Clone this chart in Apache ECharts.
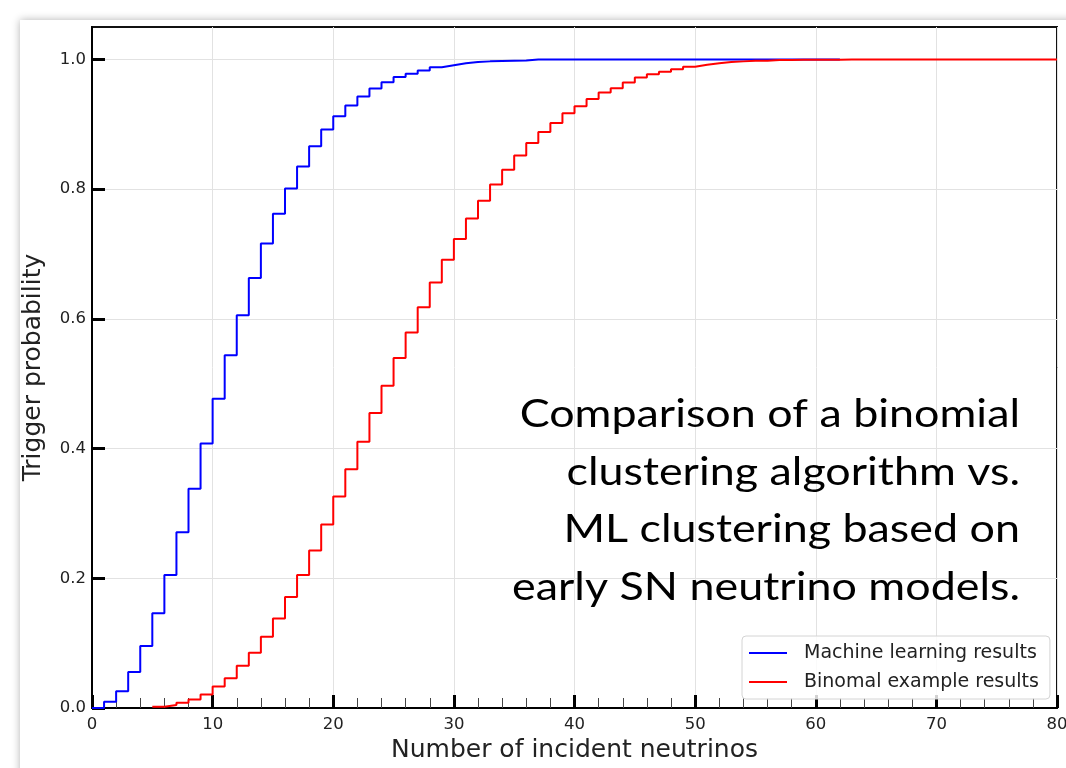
<!DOCTYPE html>
<html>
<head>
<meta charset="utf-8">
<title>Trigger probability</title>
<script src="https://cdn.jsdelivr.net/npm/echarts@6/dist/echarts.min.js"></script>
<style>
  html, body { margin: 0; padding: 0; background: #ffffff; }
  #chart { width: 1066px; height: 768px; }
</style>
</head>
<body>
<div id="chart"></div>
<script>
// Cumulative trigger probability per number of incident neutrinos.
// Each value holds from its x up to the next integer (histogram-style steps).
const mlStart = 0;
const mlValues = [
  0, 0.0098, 0.026, 0.0556, 0.0957, 0.146, 0.205, 0.271, 0.338, 0.408,
  0.477, 0.5437, 0.6054, 0.663, 0.716, 0.762, 0.801, 0.835, 0.866, 0.892,
  0.9125, 0.929, 0.943, 0.955, 0.965, 0.973, 0.978, 0.983, 0.988, 0.991,
  0.994, 0.996, 0.997, 0.9975, 0.998, 0.9985, 1.0, 1.0, 1.0, 1.0,
  1.0, 1.0, 1.0, 1.0, 1.0, 1.0, 1.0, 1.0, 1.0, 1.0,
  1.0, 1.0, 1.0, 1.0, 1.0, 1.0, 1.0, 1.0, 1.0, 1.0,
  1.0, 1.0, 1.0
];

const binomStart = 5;
const binomValues = [
  0.002, 0.0046, 0.008, 0.013, 0.021, 0.033, 0.046, 0.065, 0.085, 0.110,
  0.138, 0.171, 0.205, 0.243, 0.283, 0.326, 0.368, 0.4105, 0.4547, 0.497,
  0.5396, 0.579, 0.618, 0.656, 0.691, 0.723, 0.7546, 0.782, 0.807, 0.830,
  0.852, 0.871, 0.888, 0.902, 0.917, 0.928, 0.939, 0.949, 0.9557, 0.9645,
  0.972, 0.977, 0.981, 0.985, 0.9887, 0.9917, 0.994, 0.9959, 0.997, 0.998,
  0.998, 0.999, 0.999, 0.9995, 0.9995, 0.9995, 0.9995, 1.0, 1.0, 1.0,
  1.0, 1.0, 1.0, 1.0, 1.0, 1.0, 1.0, 1.0, 1.0, 1.0,
  1.0, 1.0, 1.0, 1.0, 1.0, 1.0
];

const seriesNames = ['Machine learning results', 'Binomal example results'];
const seriesColors = ['#0000ff', '#ff0000'];

const xTicks = [0, 10, 20, 30, 40, 50, 60, 70, 80];
const yTicks = [0, 0.2, 0.4, 0.6, 0.8, 1.0];

const noteLines = [
  'Comparison of a binomial',
  'clustering algorithm vs.',
  'ML clustering based on',
  'early SN neutrino models.'
];

function toPoints(start, values) {
  return values.map((v, i) => [start + i, v]);
}

const tickFont = 'DejaVu Sans';
const noteFont = 'Lato';

const chart = echarts.init(document.getElementById('chart'), null, { renderer: 'canvas' });

// Right-aligned note block, slightly widened to the slide's typeface proportions
const noteGraphics = noteLines.map((line, i) => ({
  type: 'text',
  x: 1020,
  y: 415 + i * 57.5,
  scaleX: 1.18,
  z: 100,
  style: {
    text: line,
    font: '38px ' + noteFont,
    fill: '#000000',
    textAlign: 'right',
    textVerticalAlign: 'middle'
  }
}));

chart.setOption({
  animation: false,
  backgroundColor: '#ffffff',
  graphic: [
    {
      type: 'rect',
      z: -10,
      silent: true,
      shape: { x: 20, y: 20, width: 1200, height: 900 },
      style: { fill: '#ffffff', shadowBlur: 8, shadowColor: 'rgba(0,0,0,0.3)' }
    }
  ].concat(noteGraphics),
  grid: {
    left: 92, right: 9, top: 27, bottom: 60,
    outerBoundsMode: 'none',
    containLabel: false,
    show: true, borderColor: '#111', borderWidth: 2, backgroundColor: 'transparent'
  },
  legend: {
    data: seriesNames,
    orient: 'vertical',
    left: 742,
    top: 636,
    icon: 'rect',
    itemWidth: 38,
    itemHeight: 2,
    itemGap: 7,
    padding: [6, 11, 6, 7],
    backgroundColor: 'rgba(255,255,255,0.82)',
    borderColor: '#d4d4d4',
    borderWidth: 1,
    borderRadius: 4,
    textStyle: {
      fontFamily: tickFont, fontSize: 19, color: '#222', lineHeight: 22,
      padding: [0, 0, 0, 12]
    }
  },
  xAxis: {
    type: 'value',
    min: 0, max: 80, interval: 10,
    name: 'Number of incident neutrinos',
    nameLocation: 'middle',
    nameGap: 25,
    nameTextStyle: { fontFamily: tickFont, fontSize: 25, color: '#222' },
    axisLine: { show: true, onZero: false, lineStyle: { color: '#000', width: 2 } },
    axisTick: { show: true, inside: true, length: 13, lineStyle: { color: '#000', width: 3 } },
    minorTick: { show: true, splitNumber: 5, length: 10, lineStyle: { color: '#444', width: 1 } },
    axisLabel: {
      margin: 8, fontFamily: tickFont, fontSize: 16.5, color: '#222',
      formatter: v => String(Math.round(v))
    },
    splitLine: { show: true, lineStyle: { color: '#e2e2e2', width: 1 } }
  },
  yAxis: {
    type: 'value',
    min: 0, max: 1.05, interval: 0.2,
    name: 'Trigger probability',
    nameLocation: 'middle',
    nameGap: 46,
    nameTextStyle: { fontFamily: tickFont, fontSize: 25, color: '#222' },
    axisLine: { show: true, onZero: false, lineStyle: { color: '#000', width: 2 } },
    axisTick: { show: true, inside: true, length: 13, customValues: yTicks, lineStyle: { color: '#000', width: 3 } },
    axisLabel: {
      margin: 6, fontFamily: tickFont, fontSize: 16.5, color: '#222',
      customValues: yTicks,
      formatter: v => v.toFixed(1)
    },
    splitLine: { show: true, lineStyle: { color: '#e2e2e2', width: 1 } }
  },
  series: [
    {
      name: seriesNames[0],
      type: 'line',
      step: 'end',
      data: toPoints(mlStart, mlValues),
      showSymbol: false,
      color: seriesColors[0],
      lineStyle: { color: seriesColors[0], width: 2 },
      z: 3
    },
    {
      name: seriesNames[1],
      type: 'line',
      step: 'end',
      data: toPoints(binomStart, binomValues),
      showSymbol: false,
      color: seriesColors[1],
      lineStyle: { color: seriesColors[1], width: 2 },
      z: 4
    }
  ]
});
</script>
</body>
</html>
